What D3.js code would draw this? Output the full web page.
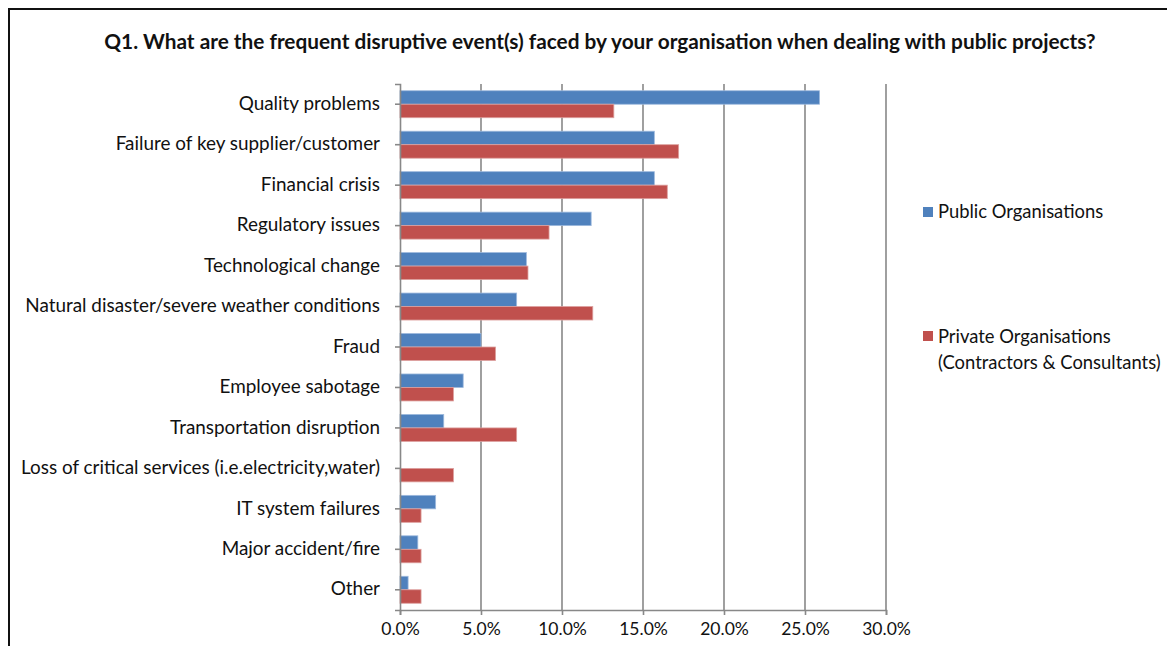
<!DOCTYPE html>
<html><head><meta charset="utf-8">
<script src="https://cdn.jsdelivr.net/npm/d3@7"></script>
<style>body{margin:0;background:#fff}svg{display:block}text{font-family:Lato,"Open Sans",sans-serif}</style>
</head><body>
<svg id="c" width="1167" height="646"></svg>
<script>
const categories = ["Quality problems","Failure of key supplier/customer","Financial crisis","Regulatory issues","Technological change","Natural disaster/severe weather conditions","Fraud","Employee sabotage","Transportation disruption","Loss of critical services (i.e.electricity,water)","IT system failures","Major accident/fire","Other"];
const publicValues  = [25.9,15.7,15.7,11.8,7.8,7.2,5.0,3.9,2.7,0,2.2,1.1,0.5];
const privateValues = [13.2,17.2,16.5,9.2,7.9,11.9,5.9,3.3,7.2,3.3,1.3,1.3,1.3];
const seriesNames = ["Public Organisations","Private Organisations"];
const xTicks = [0,5,10,15,20,25,30];
const colors = ["#4F81BD","#C0504D"];

const svg = d3.select("#c");
// frame
svg.append("path").attr("d","M9,700 L9,9 L1200,9").attr("fill","none").attr("stroke","#111").attr("stroke-width",2);

svg.append("text").attr("x",600).attr("y",49).attr("text-anchor","middle")
  .attr("font-weight","bold").attr("font-size",20.8).attr("fill","#111")
  .text("Q1. What are the frequent disruptive event(s) faced by your organisation when dealing with public projects?");

const L=400,R=886,T=84,B=610;
const x = d3.scaleLinear().domain([0,30]).range([L,R]);
const y = d3.scaleBand().domain(categories).range([T,B]).paddingInner(1/3).paddingOuter(1/6);
const ys = d3.scaleBand().domain([0,1]).range([0,y.bandwidth()]);

// gridlines
svg.append("g").selectAll("line").data(xTicks.slice(1)).join("line")
  .attr("x1",d=>x(d)).attr("x2",d=>x(d)).attr("y1",T).attr("y2",B)
  .attr("stroke","#888").attr("stroke-width",1.6);

const data = categories.map((c,i)=>({c, v:[publicValues[i],privateValues[i]]}));
const g = svg.append("g");
data.forEach(d=>{
  d.v.forEach((v,s)=>{
    if(v<=0) return;
    g.append("rect").attr("x",x(0)).attr("y",y(d.c)+ys(s)).attr("width",x(v)-x(0)).attr("height",ys.bandwidth())
      .attr("fill",colors[s]).attr("stroke",s===0?"#9DB9DD":"#DDA09E").attr("stroke-width",0.8);
  });
});

// x axis
const xa = svg.append("g").attr("transform",`translate(0,${B})`)
  .call(d3.axisBottom(x).tickValues(xTicks).tickSize(5).tickFormat(d=>d.toFixed(1)+"%"));
xa.select(".domain").attr("stroke","#888").attr("stroke-width",1.6);
xa.selectAll(".tick line").attr("stroke","#888").attr("stroke-width",1.6);
xa.selectAll(".tick text").attr("font-size",17.5).attr("fill","#111").attr("dy","0.95em").attr("font-family","Lato,sans-serif");

// y axis
const ya = svg.append("g").attr("transform",`translate(${L},0)`)
  .call(d3.axisLeft(y).tickSize(5).tickSizeOuter(5).tickPadding(15));
ya.select(".domain").attr("stroke","#888").attr("stroke-width",1.6);
ya.selectAll(".tick line").attr("stroke","#888").attr("stroke-width",1.6);
ya.selectAll(".tick text").attr("font-size",18.9).attr("fill","#111").attr("dy","0.3em").attr("font-family","Lato,sans-serif");

// legend
const leg = svg.append("g");
const legY = [212, 336];
seriesNames.forEach((n,i)=>{
  leg.append("rect").attr("x",923).attr("y",legY[i]-5).attr("width",10).attr("height",10).attr("fill",colors[i]);
});
leg.append("text").attr("x",938).attr("y",218).attr("font-size",18.4).attr("fill","#111").text(seriesNames[0]);
const t2 = leg.append("text").attr("x",938).attr("y",343).attr("font-size",18.4).attr("fill","#111");
t2.append("tspan").attr("x",938).text(seriesNames[1]);
t2.append("tspan").attr("x",938).attr("dy",26).text("(Contractors & Consultants)");
</script>
</body></html>
